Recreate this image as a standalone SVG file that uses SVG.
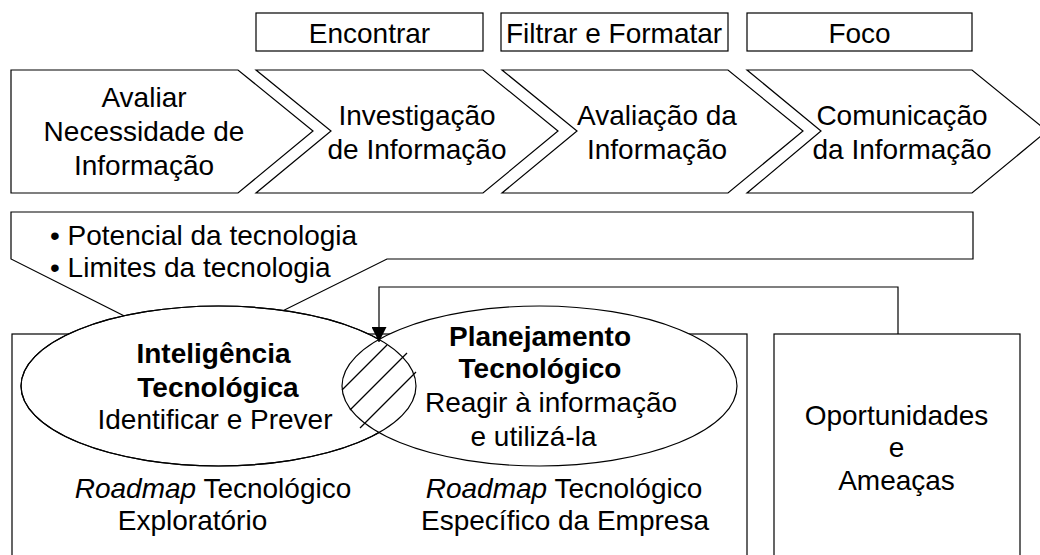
<svg xmlns="http://www.w3.org/2000/svg" width="1040" height="555" viewBox="0 0 1040 555">
<style>
  .ln{fill:#fff;stroke:#000;stroke-width:1.2}
  .no{fill:none;stroke:#000;stroke-width:1.2}
  text{font-family:"Liberation Sans",Arial,sans-serif;font-size:28px;fill:#000}
  .c{text-anchor:middle}
  .b{font-weight:bold}
</style>
<defs>
  <marker id="ah" markerWidth="16" markerHeight="15" refX="15" refY="7.5" orient="auto" markerUnits="userSpaceOnUse">
    <path d="M0,0 L15,7.5 L0,15 Z" fill="#000"/>
  </marker>
</defs>
<rect width="1040" height="555" fill="#fff"/>

<g id="label-encontrar"><rect class="ln" x="256" y="13" width="227" height="38"/><text class="c" x="369.5" y="43">Encontrar</text></g>
<g id="label-filtrar"><rect class="ln" x="501" y="13" width="227" height="38"/><text class="c" x="614" y="43">Filtrar e Formatar</text></g>
<g id="label-foco"><rect class="ln" x="747" y="13" width="225" height="38"/><text class="c" x="859.5" y="43">Foco</text></g>

<g id="step-avaliar">
  <path class="ln" d="M11,70 L238,70 L313,131 L238,193 L11,193 Z"/>
  <text class="c" x="144" y="107">Avaliar</text>
  <text class="c" x="144" y="141">Necessidade de</text>
  <text class="c" x="144" y="175">Informação</text>
</g>
<g id="step-investigacao">
  <path class="ln" d="M256,70 L483,70 L558,131 L483,193 L256,193 L331,131 Z"/>
  <text class="c" x="417" y="125">Investigação</text>
  <text class="c" x="417" y="159">de Informação</text>
</g>
<g id="step-avaliacao">
  <path class="ln" d="M502,70 L728,70 L803,131 L728,193 L502,193 L577,131 Z"/>
  <text class="c" x="657" y="125">Avaliação da</text>
  <text class="c" x="657" y="159">Informação</text>
</g>
<g id="step-comunicacao">
  <path class="ln" d="M747,70 L972,70 L1047,131 L972,193 L747,193 L821,131 Z"/>
  <text class="c" x="902" y="125">Comunicação</text>
  <text class="c" x="902" y="159">da Informação</text>
</g>

<g id="callout">
  <path class="ln" d="M11,212 L973,212 L973,259 L387,259 L198,353 L11,259 Z"/>
  <text x="50" y="245">• Potencial da tecnologia</text>
  <text x="50" y="277">• Limites da tecnologia</text>
</g>

<g id="roadmap-box">
  <rect class="ln" x="12" y="334" width="735" height="240"/>
  <text x="213" y="498" class="c"><tspan font-style="italic">Roadmap</tspan> Tecnológico</text>
  <text x="192.5" y="530" class="c">Exploratório</text>
  <text x="564" y="498" class="c"><tspan font-style="italic">Roadmap</tspan> Tecnológico</text>
  <text x="565" y="530" class="c">Específico da Empresa</text>
</g>

<g id="oportunidades">
  <rect class="ln" x="774" y="334" width="246" height="240"/>
  <text class="c" x="896.5" y="425">Oportunidades</text>
  <text class="c" x="896.5" y="457">e</text>
  <text class="c" x="896.5" y="490">Ameaças</text>
</g>

<g id="inteligencia">
  <ellipse class="ln" cx="218.5" cy="386" rx="197.5" ry="80"/>
</g>
<g id="planejamento">
  <ellipse class="ln" cx="539.5" cy="386" rx="197.5" ry="80"/>
  <text class="c b" x="540" y="346">Planejamento</text>
  <text class="c b" x="540" y="378">Tecnológico</text>
  <text class="c" x="551" y="412">Reagir à informação</text>
  <text class="c" x="533.5" y="446">e utilizá-la</text>
</g>
<g id="overlap">
  <ellipse class="no" cx="218.5" cy="386" rx="197.5" ry="80"/>
  <line class="no" x1="342" y1="390" x2="387" y2="345"/>
  <line class="no" x1="350" y1="410" x2="407" y2="353"/>
  <line class="no" x1="360" y1="428" x2="416" y2="372"/>
  <text class="c b" x="213.5" y="363">Inteligência</text>
  <text class="c b" x="218" y="397">Tecnológica</text>
  <text class="c" x="215" y="429">Identificar e Prever</text>
</g>

<g id="connectors">
  <path class="no" d="M898,334 L898,287 L379,287 L379,342" marker-end="url(#ah)"/>
</g>
</svg>
